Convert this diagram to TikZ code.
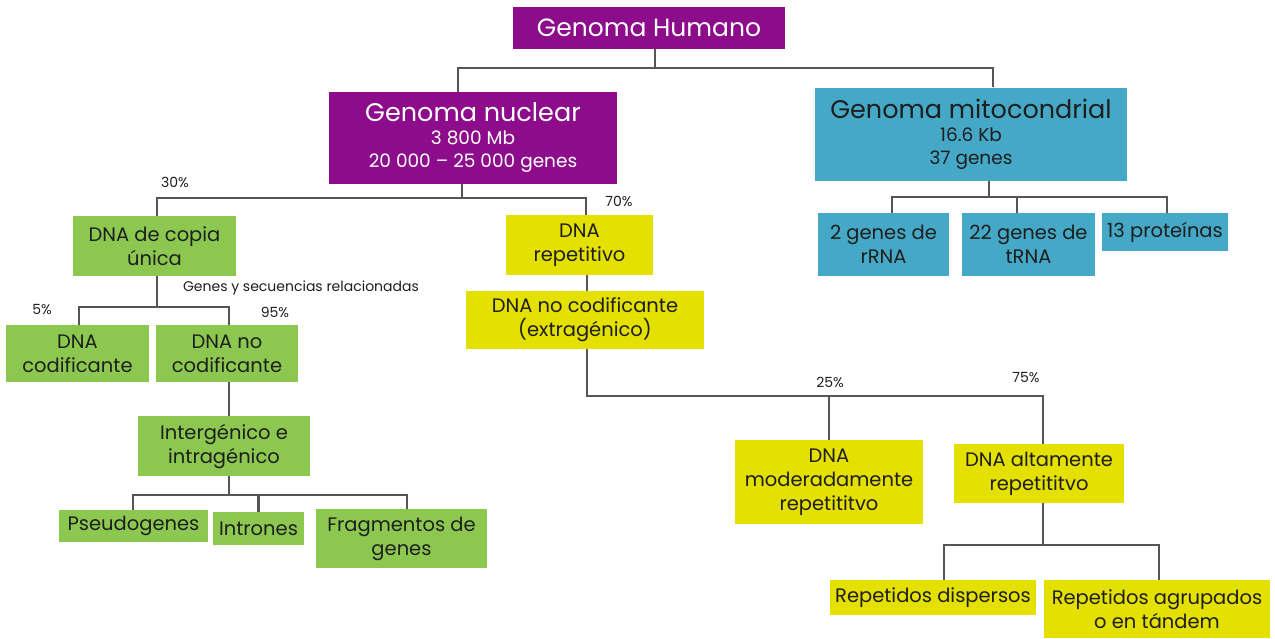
\documentclass[tikz,border=0pt]{standalone}
\usepackage{fontspec}
\setmainfont{Poppins}
\definecolor{violeta}{RGB}{140,12,140}
\definecolor{azul}{RGB}{68,168,198}
\definecolor{verde}{RGB}{140,200,80}
\definecolor{amarillo}{RGB}{228,224,0}
\definecolor{linea}{RGB}{85,85,85}
\definecolor{tinta}{RGB}{30,30,30}
\begin{document}
\begin{tikzpicture}[x=1pt,y=-1pt,
  caja/.style={rectangle,inner sep=0pt,align=center,text=tinta,
    font=\fontsize{19.5}{24}\selectfont},
  morado/.style={caja,fill=violeta,text=white},
  celeste/.style={caja,fill=azul},
  hoja/.style={caja,fill=verde},
  oro/.style={caja,fill=amarillo},
  rama/.style={draw=linea,line width=2.3pt},
  pct/.style={inner sep=0pt,text=tinta,font=\fontsize{14}{16}\selectfont}]
\useasboundingbox (0,0) rectangle (1275,638);

% top level
\node[morado,minimum width=272,minimum height=42,font=\fontsize{25}{28}\selectfont]
  (hum) at (649,28) {Genoma Humano};
\node[morado,minimum width=288,minimum height=92,font=\fontsize{18.5}{23}\selectfont]
  (nuc) at (473,138) {{\fontsize{25.5}{27}\selectfont Genoma nuclear}\\3 800 Mb\\20 000 – 25 000 genes};
\node[celeste,minimum width=312,minimum height=93,font=\fontsize{18.5}{23}\selectfont]
  (mit) at (971,134) {{\fontsize{25.5}{27}\selectfont Genoma mitocondrial}\\16.6 Kb\\37 genes};

% mitochondrial genome
\node[celeste,minimum width=131,minimum height=63] (rrna) at (883.5,244.5) {2 genes de\\rRNA};
\node[celeste,minimum width=133,minimum height=63] (trna) at (1028.5,244.5) {22 genes de\\tRNA};
\node[celeste,minimum width=126,minimum height=38] (prot) at (1165,232) {13 proteínas};

% single-copy DNA
\node[hoja,minimum width=163,minimum height=60] (copia) at (154.5,246) {DNA de copia\\única};
\node[hoja,minimum width=143,minimum height=57] (cod) at (77.5,353.5) {DNA\\codificante};
\node[hoja,minimum width=142,minimum height=57] (nocod) at (227,353.5) {DNA no\\codificante};
\node[hoja,minimum width=172,minimum height=60] (inter) at (224,446) {Intergénico e\\intragénico};
\node[hoja,minimum width=149,minimum height=32] (pseudo) at (133.5,526) {Pseudogenes};
\node[hoja,minimum width=91,minimum height=33] (intr) at (258.5,528.5) {Intrones};
\node[hoja,minimum width=171,minimum height=59] (frag) at (401.5,538.5) {Fragmentos de\\genes};

% repetitive DNA
\node[oro,minimum width=147,minimum height=60] (rep) at (579.5,245) {DNA\\repetitivo};
\node[oro,minimum width=238,minimum height=58] (extra) at (585,320) {DNA no codificante\\(extragénico)};
\node[oro,minimum width=188,minimum height=84] (mod) at (829,482) {DNA\\moderadamente\\repetititvo};
\node[oro,minimum width=170,minimum height=59] (alta) at (1039,473.5) {DNA altamente\\repetititvo};
\node[oro,minimum width=206,minimum height=35] (disp) at (933,597.5) {Repetidos dispersos};
\node[oro,minimum width=226,minimum height=58] (tand) at (1157,609) {Repetidos agrupados\\o en tándem};

% labels
\node[pct] (p30) at (175,182) {30\%};
\node[pct] (p70) at (619,201) {70\%};
\node[pct] (gsr) at (301,288) {Genes y secuencias relacionadas};
\node[pct] (p5) at (42,310) {5\%};
\node[pct] (p95) at (275,312) {95\%};
\node[pct] (p25) at (830,382) {25\%};
\node[pct] (p75) at (1026,378) {75\%};

% branch points
\coordinate (b1) at (655,68);
\coordinate (b2) at (462,198);
\coordinate (b3) at (157,307);
\coordinate (b4) at (229,495);
\coordinate (b5) at (587,396);
\coordinate (b6) at (1043,545);
\coordinate (b7) at (989,197);

% connectors
\draw[rama] ([xshift=6pt]hum.south) -- (b1);
\draw[rama] ([xshift=-15pt]nuc.north) |- (b1) -| ([xshift=22pt]mit.north);

\draw[rama] (nuc.south -| b2) -- (b2);
\draw[rama] ([xshift=2.5pt]copia.north) |- (b2) -| ([xshift=6.5pt]rep.north);

\draw[rama] (copia.south -| b3) -- (b3);
\draw[rama] ([xshift=1.5pt]cod.north) |- (b3) -| ([xshift=2pt]nocod.north);

\draw[rama] (nocod.south -| b4) -- (inter.north -| b4);
\draw[rama] (inter.south -| b4) -- (b4);
\draw[rama] ([xshift=-0.5pt]pseudo.north) |- (b4) -| ([xshift=5.5pt]frag.north);
\draw[rama] (b4 -| intr.north) -- (intr.north);

\draw[rama] (rep.south -| b5) -- (extra.north -| b5);
\draw[rama] (extra.south -| b5) -- (b5) -| ([xshift=4pt]alta.north);
\draw[rama] (b5 -| mod.north) -- (mod.north);

\draw[rama] (alta.south -| b6) -- (b6);
\draw[rama] ([xshift=11pt]disp.north) |- (b6) -| ([xshift=2pt]tand.north);

\draw[rama] (mit.south -| b7) -- (b7);
\draw[rama] ([xshift=8.5pt]rrna.north) |- (b7) -| ([xshift=2pt]prot.north);
\draw[rama] ([xshift=-11.5pt]trna.north) -- ([xshift=-11.5pt]trna.north |- b7);
\end{tikzpicture}
\end{document}
